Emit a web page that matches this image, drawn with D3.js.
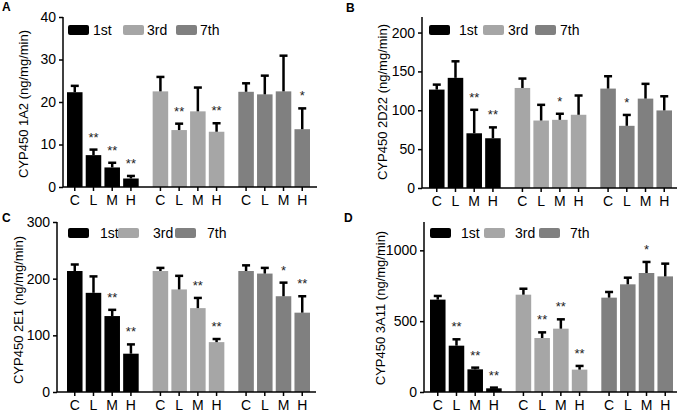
<!DOCTYPE html>
<html><head><meta charset="utf-8">
<script src="https://cdn.jsdelivr.net/npm/d3@7"></script>
<style>
html,body{margin:0;padding:0;background:#fff;}
text{font-family:"Liberation Sans",Arial,sans-serif;}
</style></head>
<body>
<svg id="chart" width="687" height="414"></svg>
<script>
// ---- data ----
const categories = ["C", "L", "M", "H"];
const groups = ["1st", "3rd", "7th"];

const titleA = "CYP450 1A2 (ng/mg/min)";
const ticksA = [0, 10, 20, 30, 40];
const meanA = [[22.3, 7.5, 4.6, 2.0], [22.5, 13.4, 17.8, 13.0], [22.4, 21.8, 22.5, 13.6]];
const sdA   = [[1.5, 1.3, 1.1, 0.6], [3.4, 1.5, 5.6, 2.0], [2.0, 4.4, 8.4, 4.9]];
const starA = [["", "**", "**", "**"], ["", "**", "", "**"], ["", "", "", "*"]];

const titleB = "CYP450 2D22 (ng/mg/min)";
const ticksB = [0, 50, 100, 150, 200];
const meanB = [[126.6, 141.7, 70.4, 64.0], [128.7, 86.8, 87.7, 94.2], [127.9, 80.0, 115.0, 99.8]];
const sdB   = [[6.4, 21.3, 30.2, 14.0], [12.1, 20.2, 7.8, 24.8], [15.9, 14.0, 19.0, 18.2]];
const starB = [["", "", "**", "**"], ["", "", "*", ""], ["", "*", "", ""]];

const titleC = "CYP450 2E1 (ng/mg/min)";
const ticksC = [0, 100, 200, 300];
const meanC = [[213.5, 175.0, 134.0, 67.6], [213.5, 181.0, 148.0, 88.0], [213.5, 209.0, 169.0, 140.0]];
const sdC   = [[11.5, 29.0, 11.0, 16.4], [5.5, 24.0, 18.0, 5.5], [10.0, 10.0, 24.0, 29.0]];
const starC = [["", "", "**", "**"], ["", "", "**", "**"], ["", "", "*", "**"]];

const titleD = "CYP450 3A11 (ng/mg/min)";
const ticksD = [0, 500, 1000];
const meanD = [[652, 327, 160, 26], [687, 381, 447, 158], [666, 760, 840, 816]];
const sdD   = [[26, 45, 12, 5], [42, 40, 66, 26], [40, 47, 78, 90]];
const starD = [["", "**", "**", "**"], ["", "**", "**", "**"], ["", "", "*", ""]];

// ---- style / layout ----
const colors = ["#000000", "#a6a6a6", "#808080"];
const panels = [
  {letter: "A", lx: 2, ly: 11, title: titleA, tx: 25, ty: 104, ticks: ticksA, max: 40, mean: meanA, sd: sdA, star: starA,
   axL: 63, axR: 317, top: 17, bot: 187, barL: 67, legend: [68, 93, 123, 147, 176, 200], legY: 25},
  {letter: "B", lx: 346, ly: 12, title: titleB, tx: 384, ty: 102, ticks: ticksB, max: 220, mean: meanB, sd: sdB, star: starB,
   axL: 422, axR: 677, top: 17, bot: 188, barL: 429, legend: [429, 459, 483, 508, 535, 560], legY: 25},
  {letter: "C", lx: 2, ly: 222, title: titleC, tx: 20, ty: 310, ticks: ticksC, max: 300, mean: meanC, sd: sdC, star: starC,
   axL: 57, axR: 316, top: 222, bot: 392, barL: 67, legend: [68, 100, 118, 153, 175, 207], legY: 228},
  {letter: "D", lx: 344, ly: 222, title: titleD, tx: 382, ty: 308, ticks: ticksD, max: 1200, mean: meanD, sd: sdD, star: starD,
   axL: 424, axR: 677, top: 222, bot: 392, barL: 430, legend: [430, 461, 484, 515, 539, 570], legY: 228}
];

const svg = d3.select("#chart");

panels.forEach(p => {
  const g = svg.append("g");
  const y = d3.scaleLinear().domain([0, p.max]).range([p.bot, p.top]);
  const x0 = d3.scaleBand().domain(groups).range([p.barL, p.barL + 243]).paddingInner(0.163).paddingOuter(0);
  const x1 = d3.scaleBand().domain(categories).range([0, x0.bandwidth()]).paddingInner(0.17).paddingOuter(0);

  // panel letter
  g.append("text").attr("x", p.lx).attr("y", p.ly).text(p.letter)
    .attr("font-size", 12).attr("font-weight", "bold");

  // y title
  g.append("text").attr("transform", `translate(${p.tx},${p.ty}) rotate(-90)`)
    .attr("text-anchor", "middle").attr("dominant-baseline", "middle")
    .attr("font-size", 13).text(p.title);

  // bars
  groups.forEach((grp, gi) => {
    const gg = g.append("g");
    const rows = categories.map((c, ci) => ({c, v: p.mean[gi][ci], sd: p.sd[gi][ci], s: p.star[gi][ci]}));
    gg.selectAll("rect.bar").data(rows).join("rect")
      .attr("x", d => x0(grp) + x1(d.c))
      .attr("width", x1.bandwidth())
      .attr("y", d => y(d.v))
      .attr("height", d => y(0) - y(d.v))
      .attr("fill", colors[gi]);
    gg.selectAll("line.err").data(rows).join("line")
      .attr("x1", d => x0(grp) + x1(d.c) + x1.bandwidth() / 2)
      .attr("x2", d => x0(grp) + x1(d.c) + x1.bandwidth() / 2)
      .attr("y1", d => y(d.v)).attr("y2", d => y(d.v + d.sd))
      .attr("stroke", "#000").attr("stroke-width", 2.5);
    gg.selectAll("line.cap").data(rows).join("line")
      .attr("x1", d => x0(grp) + x1(d.c) + x1.bandwidth() / 2 - 4)
      .attr("x2", d => x0(grp) + x1(d.c) + x1.bandwidth() / 2 + 4)
      .attr("y1", d => y(d.v + d.sd)).attr("y2", d => y(d.v + d.sd))
      .attr("stroke", "#000").attr("stroke-width", 2.5);
    gg.selectAll("text.star").data(rows.filter(d => d.s)).join("text")
      .attr("x", d => x0(grp) + x1(d.c) + x1.bandwidth() / 2)
      .attr("y", d => y(d.v + d.sd) - 8)
      .attr("text-anchor", "middle").attr("font-size", 13).attr("fill", "#222")
      .text(d => d.s);
    gg.selectAll("line.xt").data(categories).join("line")
      .attr("x1", c => x0(grp) + x1(c) + x1.bandwidth() / 2)
      .attr("x2", c => x0(grp) + x1(c) + x1.bandwidth() / 2)
      .attr("y1", p.bot).attr("y2", p.bot + 4)
      .attr("stroke", "#000").attr("stroke-width", 1.5);
    gg.selectAll("text.xl").data(categories).join("text")
      .attr("x", c => x0(grp) + x1(c) + x1.bandwidth() / 2)
      .attr("y", p.bot + 18)
      .attr("text-anchor", "middle").attr("font-size", 14)
      .text(c => c);
  });

  // y axis
  const ya = g.append("g").attr("transform", `translate(${p.axL},0)`)
    .call(d3.axisLeft(y).tickValues(p.ticks).tickFormat(d3.format("d")).tickSize(4).tickSizeOuter(0).tickPadding(3));
  ya.select(".domain").attr("stroke-width", 1.5).attr("d", `M0,${p.top}V${p.bot}`);
  ya.selectAll(".tick line").attr("stroke-width", 1.5);
  ya.selectAll(".tick text").attr("font-size", 14).attr("font-family", "Liberation Sans, Arial, sans-serif").attr("fill", "#000");

  // x axis line
  g.append("line").attr("x1", p.axL).attr("x2", p.axR).attr("y1", p.bot).attr("y2", p.bot)
    .attr("stroke", "#000").attr("stroke-width", 1.5);

  // legend
  const L = p.legend;
  groups.forEach((grp, gi) => {
    g.append("rect").attr("x", L[gi * 2]).attr("y", p.legY).attr("width", 21).attr("height", 10)
      .attr("rx", 2).attr("fill", colors[gi]);
    g.append("text").attr("x", L[gi * 2 + 1]).attr("y", p.legY + 5).attr("dominant-baseline", "central")
      .attr("font-size", 14).text(grp);
  });
});
</script>
</body></html>
